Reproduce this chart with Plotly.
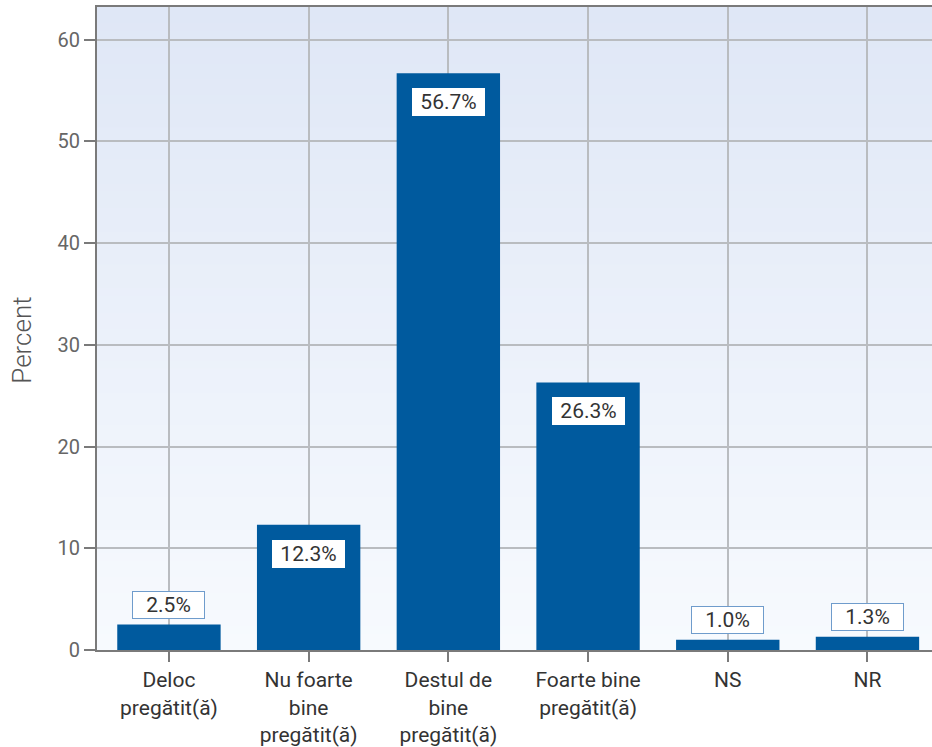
import plotly.graph_objects as go

categories = ["Deloc<br>pregătit(ă)", "Nu foarte<br>bine<br>pregătit(ă)", "Destul de<br>bine<br>pregătit(ă)",
              "Foarte bine<br>pregătit(ă)", "NS", "NR"]
values = [2.5, 12.3, 56.7, 26.3, 1.0, 1.3]
labels = ["2.5%", "12.3%", "56.7%", "26.3%", "1.0%", "1.3%"]
y_ticks = [0, 10, 20, 30, 40, 50, 60]

BAR = "#005a9e"
xs = list(range(len(categories)))

fig = go.Figure()
fig.add_trace(go.Bar(x=xs, y=values, width=0.74, marker=dict(color=BAR, line=dict(width=0)),
                     hoverinfo="skip"))

# value labels
inside_threshold = 5
for x, v, t in zip(xs, values, labels):
    if v > inside_threshold:
        fig.add_annotation(x=x, y=v, text=t, showarrow=False, yanchor="top", yshift=-15,
                           bgcolor="white", bordercolor="white", borderwidth=1, borderpad=1,
                           width=69, height=24, font=dict(family="Roboto", size=21, color="#333333"))
    else:
        fig.add_annotation(x=x, y=v, text=t, showarrow=False, yanchor="bottom", yshift=6,
                           bgcolor="white", bordercolor="#6f9ccc", borderwidth=1, borderpad=1,
                           width=69, height=24, font=dict(family="Roboto", size=21, color="#333333"))

# y-axis title
fig.add_annotation(text="Percent", xref="paper", yref="paper", x=0, y=0.481, xshift=-75,
                   xanchor="center", yanchor="middle", textangle=-90, showarrow=False,
                   font=dict(family="Roboto", size=26, color="#555555", weight=300))

# background gradient (top light blue to bottom near white)
top = (223, 231, 246)
bot = (247, 250, 254)
n = 80
shapes = []
for i in range(n):
    f = i / (n - 1)
    c = tuple(round(bot[k] + (top[k] - bot[k]) * f) for k in range(3))
    shapes.append(dict(type="rect", xref="paper", yref="paper", x0=0, x1=1,
                       y0=i / n, y1=(i + 1) / n + 0.002, fillcolor="rgb(%d,%d,%d)" % c,
                       line=dict(width=0), layer="below"))

fig.update_layout(
    width=932, height=747,
    margin=dict(l=97, r=0, t=7, b=94),
    paper_bgcolor="white", plot_bgcolor="rgba(0,0,0,0)",
    shapes=shapes,
    showlegend=False,
    xaxis=dict(range=[-0.515, 5.462], tickvals=xs, ticktext=categories,
               tickfont=dict(family="Roboto", size=21, color="#333333"),
               showgrid=True, gridcolor="#b9bcc0", gridwidth=1.5,
               showline=True, linecolor="#7a7a7a", linewidth=2, mirror=True,
               ticks="outside", ticklen=10, tickcolor="#7a7a7a", tickwidth=2,
               zeroline=False),
    yaxis=dict(range=[0, 63.2], tickvals=y_ticks,
               tickfont=dict(family="Roboto", size=20, color="#666666"),
               showgrid=True, gridcolor="#b9bcc0", gridwidth=1.5,
               showline=True, linecolor="#7a7a7a", linewidth=2,
               ticks="outside", ticklen=11, tickcolor="#7a7a7a", tickwidth=2,
               zeroline=False),
)

fig.write_html("out.html", config={"displayModeBar": False},
               post_script="document.body.style.margin='0';document.body.style.overflow='hidden';")
